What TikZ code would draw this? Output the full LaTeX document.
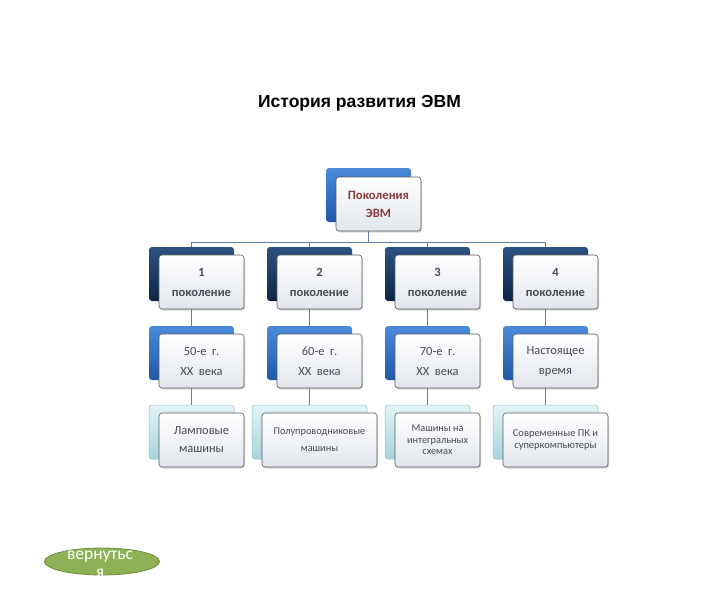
\documentclass[tikz,border=0pt]{standalone}
\usepackage{fontspec}
\setmainfont{Carlito}
\newfontfamily\titlefont{Liberation Sans}
\usetikzlibrary{trees,shadows,shapes.geometric}

\definecolor{linkblue}{HTML}{5F7FA8}
\definecolor{midtop}{HTML}{4A8BDA}
\definecolor{midbot}{HTML}{1F58A8}
\definecolor{darktop}{HTML}{2C5284}
\definecolor{darkbot}{HTML}{0E2646}
\definecolor{paletop}{HTML}{E2F4F7}
\definecolor{palebot}{HTML}{A6D3DD}
\definecolor{paleedge}{HTML}{8FC3CF}
\definecolor{framegrey}{HTML}{5A5A5A}
\definecolor{frontbot}{HTML}{E2E6EC}
\definecolor{textgrey}{HTML}{4A4A55}
\definecolor{rootred}{HTML}{8A3A3A}
\definecolor{btngreen}{HTML}{8DB255}
\definecolor{btnedge}{HTML}{6F8F40}

\tikzset{
  back/.style={rounded corners=3pt, minimum width=85pt, minimum height=54pt, inner sep=0pt},
  backmid/.style={back, top color=midtop, bottom color=midbot},
  backdark/.style={back, top color=darktop, bottom color=darkbot},
  backpale/.style={back, draw=paleedge, line width=0.5pt, top color=paletop, bottom color=palebot},
  front/.style={draw=framegrey, line width=0.6pt, rounded corners=3pt,
    top color=white, bottom color=frontbot, minimum width=85pt,
    minimum height=54pt, inner sep=2pt, align=center, text=textgrey,
    drop shadow={opacity=0.3, shadow xshift=1pt, shadow yshift=-1.5pt}},
}

\begin{document}
\begin{tikzpicture}[x=1pt, y=-1pt,
      level distance=79pt,
      edge from parent/.style={draw=linkblue, line width=0.8pt},
      edge from parent path={(\tikzparentnode.south) -- (\tikzparentnode.south |- \tikzchildnode.north)},
      level 1/.style={sibling distance=118pt,
        edge from parent path={(\tikzparentnode.south) -- +(0pt,-20pt) -| (\tikzchildnode.north)}}
    ]
    \fill[white] (0,0) rectangle (720,613);
    \useasboundingbox (0,0) rectangle (720,613);

    \node[font=\titlefont\bfseries\fontsize{17.5}{20}\selectfont] (title) at (359.5,103) {История развития ЭВМ};

    % back boxes as a tree
    \node[backmid] (g0) at (368.5,195) {}
    child {
        node[backdark] (g1) {}
        child {
            node[backmid] (h1) {}
            child {node[backpale] (k1) {}}
          }
      }
    child {
        node[backdark] (g2) {}
        child {
            node[backmid] (h2) {}
            child {node[backpale, minimum width=115pt] (k2) {}}
          }
      }
    child {
        node[backdark] (g3) {}
        child {
            node[backmid] (h3) {}
            child {node[backpale] (k3) {}}
          }
      }
    child {
        node[backdark] (g4) {}
        child {
            node[backmid] (h4) {}
            child {node[backpale, minimum width=105pt] (k4) {}}
          }
      };

    % front boxes
    \node[front, text=rootred, font=\bfseries\fontsize{12.7}{18}\selectfont] (f0)
      at ([shift={(10pt,-9pt)}]g0) {Поколения\\ЭВМ};
    \foreach \n in {1,2,3,4}
      \node[front, font=\bfseries\fontsize{12.5}{20}\selectfont] (f\n)
        at ([shift={(10pt,-8pt)}]g\n) {\n\\поколение};
    \foreach \n/\txt in {1/{50-е~ г.\\XX~ века}, 2/{60-е~ г.\\XX~ века},
        3/{70-е~ г.\\XX~ века}, 4/{Настоящее\\время}}
      \node[front, font=\fontsize{12.5}{20}\selectfont] (e\n)
        at ([shift={(10pt,-8pt)}]h\n) {\txt};
    \foreach \n/\w/\fs/\txt in {1/85/{\fontsize{12.4}{18}}/{Ламповые\\машины},
        2/115/{\fontsize{10.3}{17}}/{Полупроводниковые\\машины},
        3/85/{\fontsize{10.3}{11.5}}/{Машины на\\интегральных\\схемах},
        4/105/{\fontsize{10.5}{12}}/{Современные ПК и\\суперкомпьютеры}}
      \node[front, minimum width=\w pt, font=\fs\selectfont] (d\n)
        at ([shift={(10pt,-8pt)}]k\n) {\txt};

    % return button
    \node[ellipse, fill=btngreen, draw=btnedge, line width=0.8pt,
      minimum width=115pt, minimum height=27pt] (back) at (102,561.5) {};
    \node[text=white, align=center, font=\fontsize{17.5}{18}\selectfont] (backlbl)
      at (100,564) {вернутьс\\я};
\end{tikzpicture}
\end{document}
